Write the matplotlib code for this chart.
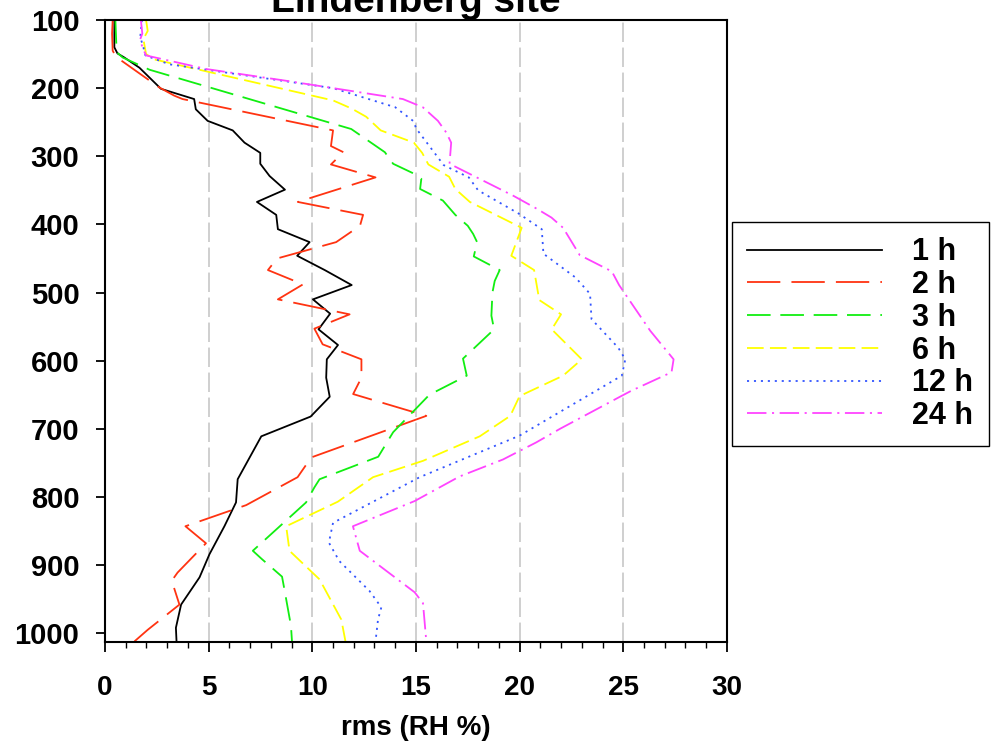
import matplotlib
matplotlib.use('Agg')
import matplotlib.pyplot as plt
from matplotlib.ticker import MultipleLocator

plt.rcParams['font.family'] = ['Liberation Sans', 'DejaVu Sans']
plt.rcParams['font.weight'] = 'bold'
plt.rcParams['lines.scale_dashes'] = False

# rms of relative humidity (%) against pressure (hPa), one profile per forecast range
p_1h = [100, 140, 149, 155, 170, 201, 216, 231, 248, 262, 280, 295, 311, 329, 349, 367, 386, 407, 426, 446,
        467, 489, 510, 531, 554, 577, 598, 625, 653, 682, 711, 774, 808, 843, 884, 918, 958, 992, 1012]
rms_1h = [0.45, 0.45, 0.6, 0.93, 1.66, 2.7, 4.3, 4.38, 4.95, 6.16, 6.73, 7.49, 7.49, 7.94, 8.68, 7.33, 8.26, 8.34, 9.87, 9.27,
          10.6, 11.9, 10.03, 10.86, 10.3, 11.24, 10.7, 10.67, 10.84, 9.92, 7.54, 6.4, 6.32, 5.76, 5.04, 4.56, 3.67, 3.42, 3.45]

p_2h = [100, 120, 145, 154, 199, 211, 216, 262, 285, 294, 312, 331, 367, 386, 402, 426, 450, 467, 488, 510,
        532, 553, 576, 598, 625, 649, 681, 742, 771, 812, 843, 868, 911, 923, 958, 995, 1012]
rms_2h = [0.37, 0.34, 0.37, 0.53, 2.62, 3.34, 3.74, 11.0, 10.9, 11.5, 10.9, 13.05, 9.3, 12.45, 12.3, 11.15, 8.3, 7.86, 9.55, 8.34,
          11.8, 10.1, 10.5, 12.37, 12.37, 11.97, 15.5, 9.95, 9.29, 6.81, 3.88, 4.87, 3.5, 3.22, 3.59, 2.06, 1.42]

p_3h = [100, 147, 155, 173, 260, 294, 311, 326, 333, 348, 365, 386, 402, 414, 426, 447, 467, 483, 500, 534,
        554, 597, 622, 650, 705, 741, 774, 786, 808, 879, 891, 917, 935, 989, 1012]
rms_3h = [0.5, 0.56, 0.85, 2.15, 11.88, 13.5, 13.9, 14.94, 15.26, 15.2, 16.3, 16.9, 17.5, 17.76, 17.95, 17.79, 19.04, 18.8, 18.69, 18.64,
          18.77, 17.27, 17.45, 15.65, 13.9, 13.18, 10.35, 10.1, 9.7, 7.13, 7.56, 8.54, 8.65, 8.97, 9.02]

p_6h = [100, 116, 128, 150, 158, 218, 230, 242, 262, 280, 295, 312, 330, 348, 367, 405, 446, 467, 511, 532,
        554, 598, 622, 652, 681, 711, 747, 771, 807, 843, 879, 921, 980, 1012]
rms_6h = [1.98, 2.06, 1.85, 1.98, 2.4, 11.0, 11.9, 12.6, 13.3, 14.9, 15.3, 15.6, 16.6, 16.9, 17.6, 20.1, 19.6, 20.7, 20.95, 22.0,
          21.55, 23.0, 22.1, 20.0, 19.55, 18.08, 15.34, 12.93, 11.23, 8.74, 8.9, 10.35, 11.4, 11.6]

p_12h = [100, 125, 140, 152, 165, 200, 228, 248, 260, 313, 331, 350, 384, 407, 443, 478, 502, 539, 581, 598,
         622, 710, 771, 838, 867, 894, 938, 962, 980, 1012]
rms_12h = [1.78, 1.7, 1.85, 1.95, 3.1, 11.0, 14.0, 14.86, 15.03, 16.34, 17.55, 18.0, 19.95, 21.07, 21.15, 22.7, 23.4, 23.47, 24.76, 25.1,
           24.93, 20.0, 15.18, 11.0, 10.8, 11.3, 12.76, 13.33, 13.17, 13.05]

p_24h = [100, 120, 128, 140, 152, 172, 189, 216, 228, 248, 265, 280, 311, 358, 377, 390, 405, 445, 469, 489,
         556, 598, 617, 644, 652, 700, 720, 745, 770, 806, 843, 879, 940, 956, 1012]
rms_24h = [1.73, 1.8, 1.7, 1.8, 1.98, 4.9, 8.7, 14.37, 15.33, 16.06, 16.46, 16.7, 16.62, 19.7, 20.83, 21.54, 22.1, 22.9, 24.45, 24.8,
           26.3, 27.43, 27.33, 25.4, 24.9, 21.95, 20.8, 19.2, 17.1, 14.94, 11.96, 12.29, 14.94, 15.34, 15.5]

labels = ['1 h', '2 h', '3 h', '6 h', '12 h', '24 h']
colors = ['#000000', '#ff3311', '#11ee11', '#ffff00', '#3355ff', '#ff44ff']
dashes = [(), (24, 8), (17, 7), (12, 4.5), (1.5, 3.5), (14, 4, 1.5, 4)]

fig = plt.figure(figsize=(10.03, 7.44), dpi=100)
ax = fig.add_axes([0.1047, 0.137, 0.62, 0.8361])

profiles = [(rms_1h, p_1h), (rms_2h, p_2h), (rms_3h, p_3h),
            (rms_6h, p_6h), (rms_12h, p_12h), (rms_24h, p_24h)]
for (x, p), lab, c, d in zip(profiles, labels, colors, dashes):
    line, = ax.plot(x, p, color=c, lw=1.3, label=lab)
    if d:
        line.set_dashes(d)

for g in [5, 10, 15, 20, 25]:
    ax.axvline(g, color='#cccccc', lw=1.3, dashes=(14, 4), zorder=0)

ax.set_xlim(0, 30)
ax.set_ylim(1013, 100)
ax.xaxis.set_major_locator(MultipleLocator(5))
ax.xaxis.set_minor_locator(MultipleLocator(1))
ax.yaxis.set_major_locator(MultipleLocator(100))
ax.tick_params(axis='x', which='major', length=7, width=1.3, pad=17, labelsize=20)
ax.tick_params(axis='x', which='minor', length=4, width=1.0)
ax.tick_params(axis='y', which='major', length=6.5, width=1.3, pad=12, labelsize=21)
for s in ax.spines.values():
    s.set_linewidth(1.5)

ax.set_xlabel('rms (RH %)', fontsize=20, fontweight='bold', labelpad=10)
ax.set_title('Lindenberg site', fontsize=28, fontweight='bold', pad=6)

leg = ax.legend(loc='upper left', bbox_to_anchor=(0.7298, 0.7016), bbox_transform=fig.transFigure,
                fontsize=22, frameon=True, fancybox=False, edgecolor='black', framealpha=1,
                handlelength=4.4, handletextpad=1.0, labelspacing=0.09, borderpad=0.5,
                borderaxespad=0)
leg.get_frame().set_linewidth(1.0)

fig.savefig('out.png', dpi=100)
